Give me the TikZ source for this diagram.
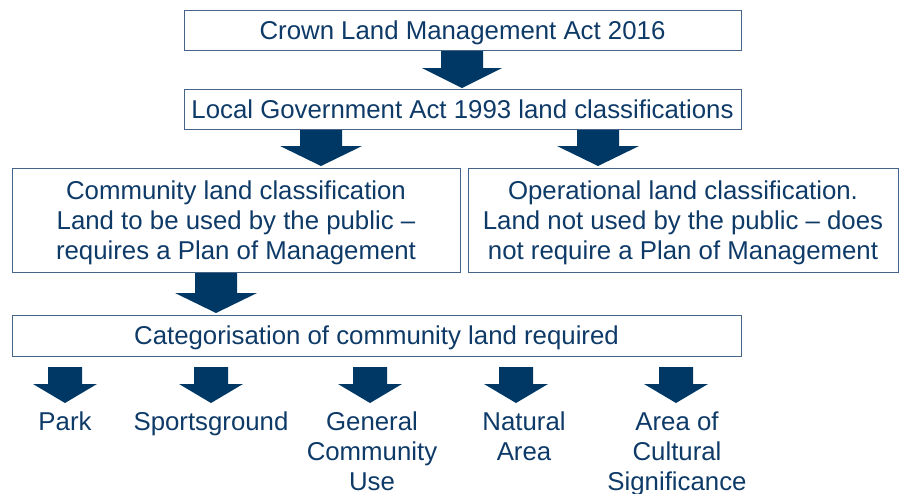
\documentclass[tikz,border=0pt]{standalone}
\usepackage{fontspec}
\setmainfont{Liberation Sans}
\definecolor{navy}{RGB}{0,56,101}
\definecolor{txtblue}{RGB}{14,58,104}
\definecolor{boxline}{RGB}{70,100,135}
\newcommand\blkarrow[6]{% cx, top, bottom, shaft half width, head half width, head height
  \fill[navy] (#1-#4,#2) -- (#1+#4,#2) -- (#1+#4,#3-#6) -- (#1+#5,#3-#6) -- (#1,#3) -- (#1-#5,#3-#6) -- (#1-#4,#3-#6) -- cycle;}
\begin{document}
\begin{tikzpicture}[x=1pt,y=-1pt,
  box/.style={draw=boxline, line width=0.9pt, text=txtblue, align=center, inner sep=0pt,
    text depth=0pt, font=\fontsize{25.8}{30}\selectfont},
  lbl/.style={text=txtblue, align=center, inner sep=0pt, font=\fontsize{25.8}{30}\selectfont}]
\useasboundingbox (0,0) rectangle (902,493);
\node[box, minimum width=557, minimum height=40] (crown) at (462.5,30) {Crown Land Management Act 2016};
\node[box, minimum width=557, minimum height=40] (lga) at (462.5,109) {Local Government Act 1993 land classifications};
\node[box, minimum width=448, minimum height=104] (comm) at (236,220.5) {Community land classification\\Land to be used by the public --\\requires a Plan of Management};
\node[box, minimum width=430, minimum height=104] (oper) at (683,220.5) {Operational land classification.\\Land not used by the public -- does\\not require a Plan of Management};
\node[box, minimum width=729, minimum height=41] (cat) at (376.5,335.5) {Categorisation of community land required};
\node[lbl, anchor=north] (park) at (65,412) {Park};
\node[lbl, anchor=north] (sport) at (211,412) {Sportsground};
\node[lbl, anchor=north] (gen) at (372,412) {General\\Community\\Use};
\node[lbl, anchor=north] (nat) at (524,412) {Natural\\Area};
\node[lbl, anchor=north] (acs) at (677,412) {Area of\\Cultural\\Significance};
\blkarrow{462}{51}{88}{21}{40}{20}
\blkarrow{321}{130}{166}{21}{41}{20}
\blkarrow{598}{130}{166}{21}{41}{20}
\blkarrow{216}{273}{313}{21}{41}{20}
\blkarrow{65}{367}{403}{17}{32}{19}
\blkarrow{211}{367}{403}{17}{32}{19}
\blkarrow{370}{367}{403}{17}{32}{19}
\blkarrow{516}{367}{403}{17}{32}{19}
\blkarrow{676}{367}{403}{17}{32}{19}
\end{tikzpicture}
\end{document}
